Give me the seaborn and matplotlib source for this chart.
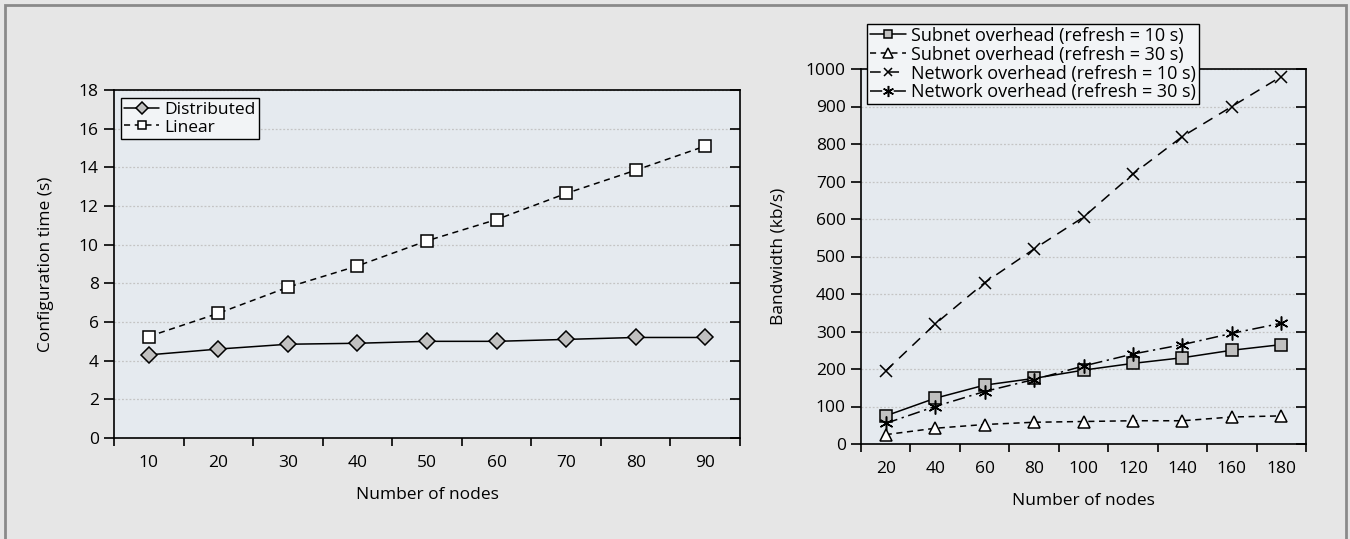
import numpy as np
import pandas as pd
import matplotlib.pyplot as plt
import matplotlib.patches as patches
from matplotlib.ticker import MultipleLocator
import seaborn as sns

# left panel data
nodes_left = [10, 20, 30, 40, 50, 60, 70, 80, 90]
distributed = [4.3, 4.6, 4.85, 4.9, 5.0, 5.0, 5.1, 5.2, 5.2]
linear = [5.25, 6.45, 7.8, 8.9, 10.2, 11.3, 12.65, 13.85, 15.1]

# right panel data
nodes_right = [20, 40, 60, 80, 100, 120, 140, 160, 180]
subnet_10 = [75, 122, 157, 175, 197, 215, 230, 250, 265]
subnet_30 = [25, 42, 52, 58, 60, 62, 62, 72, 75]
network_10 = [195, 320, 430, 520, 605, 720, 820, 900, 980]
network_30 = [55, 100, 140, 172, 208, 240, 265, 295, 322]

sns.set_style("white")
plt.rcParams['font.family'] = ['Open Sans', 'DejaVu Sans']
plt.rcParams['font.size'] = 12.5
plt.rcParams['text.color'] = 'black'
plt.rcParams['axes.labelcolor'] = 'black'
plt.rcParams['xtick.color'] = 'black'
plt.rcParams['ytick.color'] = 'black'

FS = 12.5

fig = plt.figure(figsize=(13.5, 5.39), dpi=100)
fig.patch.set_facecolor("#e6e6e6")
W, H = 1350, 539

def px_axes(x0, y0, x1, y1):
    return fig.add_axes([x0 / W, 1 - y1 / H, (x1 - x0) / W, (y1 - y0) / H])

ax1 = px_axes(114, 90, 740, 438)
ax2 = px_axes(861, 69, 1306, 444)

def style_axes(ax, xmin, xmax, step, ymax, ystep):
    ax.set_facecolor("#e5eaef")
    ax.set_xlim(xmin, xmax)
    ax.set_ylim(0, ymax)
    ax.set_xticks(np.arange(xmin, xmax + 1, step), minor=True)
    ax.set_xticks(np.arange(xmin + step / 2, xmax, step))
    ax.yaxis.set_major_locator(MultipleLocator(ystep))
    ax.tick_params(axis='x', which='major', bottom=False, length=0, pad=12, labelsize=FS)
    ax.tick_params(axis='x', which='minor', bottom=True, length=6, width=1.2, direction='out', color='black')
    ax.tick_params(axis='y', which='major', left=True, length=7, width=1.2, direction='out', color='black',
                   labelsize=FS, pad=4)
    # inward ticks on the right side
    tw = ax.twinx()
    tw.set_ylim(0, ymax)
    tw.yaxis.set_major_locator(MultipleLocator(ystep))
    tw.tick_params(axis='y', right=True, direction='in', length=7, width=1.2, labelright=False, color='black')
    for s in tw.spines.values():
        s.set_visible(False)
    ax.grid(axis='y', color='#c4c4c4', linestyle=(0, (1.5, 1.5)), linewidth=0.9)
    ax.set_axisbelow(True)
    for s in ax.spines.values():
        s.set_color('black')
        s.set_linewidth(1.2)

style_axes(ax1, 5, 95, 10, 18, 2)
style_axes(ax2, 10, 190, 20, 1000, 100)

sns.lineplot(x=nodes_left, y=distributed, ax=ax1, color='black', linewidth=1.1,
             marker='D', markersize=8, markerfacecolor='#c0c0c0', markeredgecolor='black',
             markeredgewidth=1.1, label='Distributed')
sns.lineplot(x=nodes_left, y=linear, ax=ax1, color='black', linewidth=1.1, linestyle=(0, (4, 3)),
             marker='s', markersize=8, markerfacecolor='white', markeredgecolor='black',
             markeredgewidth=1.1, label='Linear')
ax1.set_xlabel("Number of nodes", fontsize=FS, labelpad=12)
ax1.set_ylabel("Configuration time (s)", fontsize=FS, labelpad=18)
leg1 = ax1.legend(loc='upper left', bbox_to_anchor=(121 / W, 1 - 98 / H), bbox_transform=fig.transFigure,
                  fancybox=False, edgecolor='black', framealpha=1, facecolor='#f2f4f6',
                  handlelength=2.0, handletextpad=0.3, borderpad=0.2, labelspacing=0.1, fontsize=FS,
                  borderaxespad=0, markerscale=0.8)
leg1.get_frame().set_linewidth(1.0)

sns.lineplot(x=nodes_right, y=subnet_10, ax=ax2, color='black', linewidth=1.1,
             marker='s', markersize=8, markerfacecolor='#c0c0c0', markeredgecolor='black',
             markeredgewidth=1.1, label='Subnet overhead (refresh = 10 s)')
sns.lineplot(x=nodes_right, y=subnet_30, ax=ax2, color='black', linewidth=1.1, linestyle=(0, (4, 3)),
             marker='^', markersize=9, markerfacecolor='white', markeredgecolor='black',
             markeredgewidth=1.1, label='Subnet overhead (refresh = 30 s)')
sns.lineplot(x=nodes_right, y=network_10, ax=ax2, color='black', linewidth=1.1, linestyle=(0, (7, 5)),
             marker='x', markersize=8, markeredgecolor='black',
             markeredgewidth=1.1, label='Network overhead (refresh = 10 s)')
sns.lineplot(x=nodes_right, y=network_30, ax=ax2, color='black', linewidth=1.1, linestyle=(0, (8, 3, 1.5, 3)),
             marker=(6, 2, 0), markersize=10, markeredgecolor='black',
             markeredgewidth=1.1, label='Network overhead (refresh = 30 s)')
ax2.set_xlabel("Number of nodes", fontsize=FS, labelpad=12)
ax2.set_ylabel("Bandwidth (kb/s)", fontsize=FS, labelpad=14)
leg2 = ax2.legend(loc='upper left', bbox_to_anchor=(867 / W, 1 - 24 / H), bbox_transform=fig.transFigure,
                  fancybox=False, edgecolor='black', framealpha=1, facecolor='#f2f4f6',
                  handlelength=2.0, handletextpad=0.3, borderpad=0.15, labelspacing=0.05, fontsize=13,
                  borderaxespad=0, markerscale=0.8)
leg2.get_frame().set_linewidth(1.0)

# outer frame
frame = patches.Rectangle((5 / W, -0.1), 1 - 9 / W, 1.1 - 5 / H, transform=fig.transFigure,
                          fill=False, edgecolor='#8a8a8a', linewidth=2, zorder=10)
fig.patches.append(frame)

fig.savefig("out.png", dpi=100, facecolor=fig.get_facecolor())
